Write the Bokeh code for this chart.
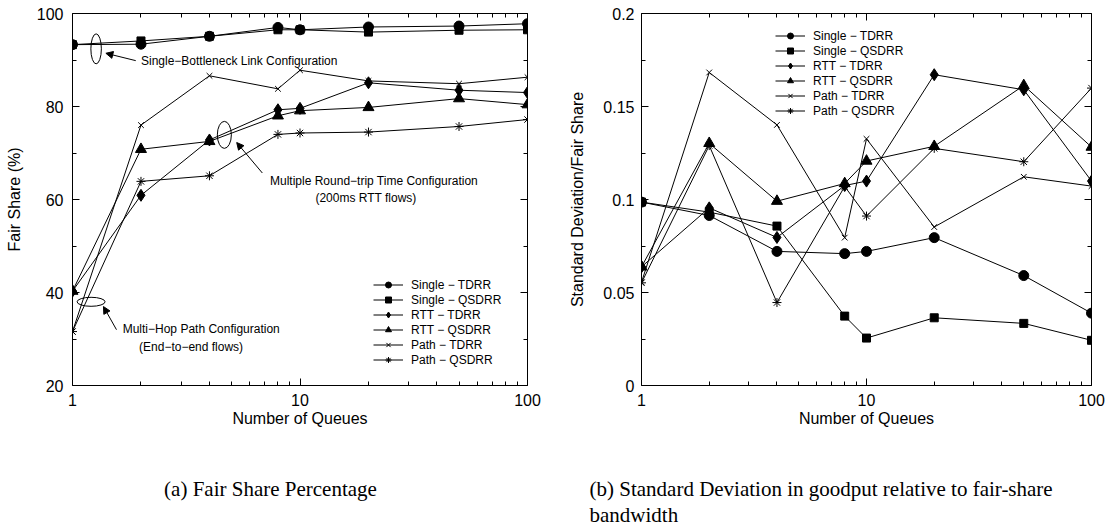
from bokeh.plotting import figure
from bokeh.models import (Range1d, FixedTicker, LogAxis, LinearAxis, Label, Arrow,
                          NormalHead, CustomJSTickFormatter)
from bokeh.layouts import row, column
from bokeh.embed import file_html
from bokeh.resources import INLINE

# ---------------- data ----------------
queues = [1, 2, 4, 8, 10, 20, 50, 100]

series_labels = ["Single \u2212 TDRR", "Single \u2212 QSDRR", "RTT \u2212 TDRR",
                 "RTT \u2212 QSDRR", "Path \u2212 TDRR", "Path \u2212 QSDRR"]

# (a) Fair share percentage
fs_single_tdrr = [93.3, 93.4, 95.1, 97.0, 96.5, 97.1, 97.3, 97.8]
fs_single_qsdrr = [93.3, 94.1, 95.1, 96.5, 96.5, 96.0, 96.4, 96.5]
fs_rtt_tdrr = [40.3, 60.9, 72.8, 79.3, 79.6, 85.1, 83.5, 83.0]
fs_rtt_qsdrr = [40.3, 70.8, 72.5, 78.0, 79.1, 79.8, 81.7, 80.4]
fs_path_tdrr = [31.6, 76.0, 86.6, 83.8, 87.8, 85.5, 84.9, 86.3]
fs_path_qsdrr = [31.6, 63.9, 65.1, 74.0, 74.3, 74.5, 75.7, 77.2]

# (b) Standard deviation / fair share
sd_single_tdrr = [0.0986, 0.0914, 0.0721, 0.0709, 0.0721, 0.0795, 0.0591, 0.0389]
sd_single_qsdrr = [0.0986, 0.0932, 0.0857, 0.0373, 0.0255, 0.0364, 0.0334, 0.0243]
sd_rtt_tdrr = [0.0638, 0.0955, 0.0796, 0.1075, 0.1099, 0.1671, 0.1590, 0.1099]
sd_rtt_qsdrr = [0.0638, 0.1302, 0.0991, 0.1086, 0.1207, 0.1286, 0.1613, 0.1282]
sd_path_tdrr = [0.0555, 0.1683, 0.1401, 0.0795, 0.1326, 0.0852, 0.1122, 0.1072]
sd_path_qsdrr = [0.0552, 0.1290, 0.0446, 0.1070, 0.0911, 0.1275, 0.1203, 0.1599]

x_ticks = [1, 10, 100]
x_minor_ticks = [2, 3, 4, 5, 6, 7, 8, 9, 20, 30, 40, 50, 60, 70, 80, 90]
fs_ticks = [20, 40, 60, 80, 100]
fs_minor_ticks = [30, 50, 70, 90]
sd_ticks = [0, 0.05, 0.1, 0.15, 0.2]
sd_minor_ticks = [0.025, 0.075, 0.125, 0.175]

caption_a = "(a) Fair Share Percentage"
caption_b1 = "(b) Standard Deviation in goodput relative to fair-share"
caption_b2 = "bandwidth"

# ---------------- styles ----------------
FONT = "Liberation Sans"
SERIF = "Liberation Serif"
marker_styles = [("circle", 10), ("square", 8), ("diamond", 12),
                 ("triangle", 11), ("x", 8), ("asterisk", 9)]

label_fmt = CustomJSTickFormatter(code="return String(parseFloat(tick.toFixed(4)));")
blank_fmt = CustomJSTickFormatter(code="return '';")

TOP_H = 450
FRAME_H = 372
BORDER_TOP = 13


def style_axis(ax, labels=True, label_standoff=8):
    ax.axis_line_color = None
    ax.major_tick_in = 7
    ax.major_tick_out = 0
    ax.minor_tick_in = 4
    ax.minor_tick_out = 0
    ax.major_tick_line_color = "black"
    ax.minor_tick_line_color = "black"
    ax.major_tick_line_width = 1
    ax.minor_tick_line_width = 1
    ax.major_label_text_font = FONT
    ax.major_label_text_color = "black"
    ax.axis_label_text_font = FONT
    ax.axis_label_text_font_size = "16px"
    ax.axis_label_text_font_style = "normal"
    ax.axis_label_text_color = "black"
    if labels:
        ax.major_label_text_font_size = "16px"
        ax.major_label_standoff = label_standoff
        ax.formatter = label_fmt
    else:
        ax.major_label_text_font_size = "0px"
        ax.major_label_standoff = 0
        ax.formatter = blank_fmt


def make_fig(yr, yticks, yminor, ylabel, bl, br, fw, ystand, ylab_stand, leg_loc, data):
    p = figure(x_axis_type="log", x_range=Range1d(1, 100), y_range=Range1d(*yr),
               frame_width=fw, frame_height=FRAME_H, width=bl + fw + br, height=TOP_H,
               min_border_left=bl, min_border_right=br, min_border_top=BORDER_TOP,
               min_border_bottom=TOP_H - FRAME_H - BORDER_TOP, output_backend="svg",
               toolbar_location=None, background_fill_color="white",
               border_fill_color="white")
    p.grid.visible = False
    p.outline_line_color = "black"
    p.outline_line_width = 1

    xa = p.xaxis[0]
    xa.ticker = FixedTicker(ticks=x_ticks, minor_ticks=x_minor_ticks)
    style_axis(xa, True, 8)
    xa.axis_label = "Number of Queues"
    xa.axis_label_standoff = 1

    ya = p.yaxis[0]
    ya.ticker = FixedTicker(ticks=yticks, minor_ticks=yminor)
    style_axis(ya, True, ystand)
    ya.axis_label = ylabel
    ya.axis_label_standoff = ylab_stand

    top = LogAxis(ticker=FixedTicker(ticks=x_ticks, minor_ticks=x_minor_ticks))
    style_axis(top, False)
    p.add_layout(top, "above")
    right = LinearAxis(ticker=FixedTicker(ticks=yticks, minor_ticks=yminor))
    style_axis(right, False)
    p.add_layout(right, "right")

    for vals, lab, (m, sz) in zip(data, series_labels, marker_styles):
        p.line(queues, vals, line_color="black", line_width=1, legend_label=lab)
        p.scatter(queues, vals, marker=m, size=sz, fill_color="black",
                  line_color="black", line_width=1, legend_label=lab)

    leg = p.legend[0]
    leg.location = leg_loc
    leg.label_text_font = FONT
    leg.label_text_font_size = "12px"
    leg.label_text_color = "black"
    leg.glyph_width = 30
    leg.glyph_height = 15
    leg.label_height = 15
    leg.spacing = 0
    leg.padding = 0
    leg.margin = 0
    leg.label_standoff = 8
    leg.border_line_color = None
    leg.background_fill_alpha = 0
    return p


p1 = make_fig((20, 100), fs_ticks, fs_minor_ticks, "Fair Share (%)", 72, 33, 455, 9, 11,
              (301, 18), [fs_single_tdrr, fs_single_qsdrr, fs_rtt_tdrr, fs_rtt_qsdrr,
                          fs_path_tdrr, fs_path_qsdrr])
p2 = make_fig((0, 0.2), sd_ticks, sd_minor_ticks, "Standard Deviation/Fair Share", 81, 14, 450,
              7, 14, (134, 267), [sd_single_tdrr, sd_single_qsdrr, sd_rtt_tdrr, sd_rtt_qsdrr,
                                  sd_path_tdrr, sd_path_qsdrr])

# ---------------- annotations on (a) ----------------
ann_font = dict(text_font=FONT, text_font_size="12px", text_color="black",
                text_baseline="middle")
p1.add_layout(Label(x=2.0, y=89.8, text="Single\u2212Bottleneck Link Configuration",
                    text_align="left", **ann_font))
p1.add_layout(Label(x=21.15, y=63.9, text="Multiple Round\u2212trip Time Configuration",
                    text_align="center", **ann_font))
p1.add_layout(Label(x=19.5, y=60.4, text="(200ms RTT flows)", text_align="center", **ann_font))
p1.add_layout(Label(x=3.68, y=32.1, text="Multi\u2212Hop Path Configuration",
                    text_align="center", **ann_font))
p1.add_layout(Label(x=3.32, y=28.3, text="(End\u2212to\u2212end flows)", text_align="center",
                    **ann_font))

ell_x = [1.27, 4.65, 1.207]
ell_y = [92.4, 73.9, 38.0]
ell_w = [10.5, 14, 28]
ell_h = [30, 27, 9]
p1.ellipse(x=ell_x, y=ell_y, width=ell_w, height=ell_h, width_units="screen",
           height_units="screen", fill_color=None, line_color="black", line_width=1)

arrows = [((1.897, 89.86), (1.402, 91.45)), ((6.83, 65.7), (5.27, 72.25)),
          ((1.561, 32.0), (1.368, 36.98))]
for (xs, ys), (xe, ye) in arrows:
    p1.add_layout(Arrow(end=NormalHead(size=7, fill_color="black", line_color="black",
                                       line_width=1),
                        x_start=xs, y_start=ys, x_end=xe, y_end=ye,
                        line_color="black", line_width=1))

# ---------------- captions (separate strip below) ----------------
CAP_H = 527 - TOP_H
cap = figure(width=1105, height=CAP_H, x_range=Range1d(0, 1105), y_range=Range1d(0, CAP_H),
             min_border=0, output_backend="svg", toolbar_location=None,
             x_axis_location=None, y_axis_location=None, outline_line_color=None,
             background_fill_color="white", border_fill_color="white")
cap.grid.visible = False
cap_style = dict(x_units="screen", y_units="screen", text_font=SERIF, text_font_size="21px",
                 text_color="black", text_baseline="middle")
cap.add_layout(Label(x=270, y=CAP_H - 38, text=caption_a, text_align="center", **cap_style))
cap.add_layout(Label(x=589, y=CAP_H - 38, text=caption_b1, text_align="left", **cap_style))
cap.add_layout(Label(x=589, y=CAP_H - 64, text=caption_b2, text_align="left", **cap_style))

layout = column(row(p1, p2, spacing=0), cap, spacing=0)
open("out.html", "w").write(file_html(layout, INLINE))
